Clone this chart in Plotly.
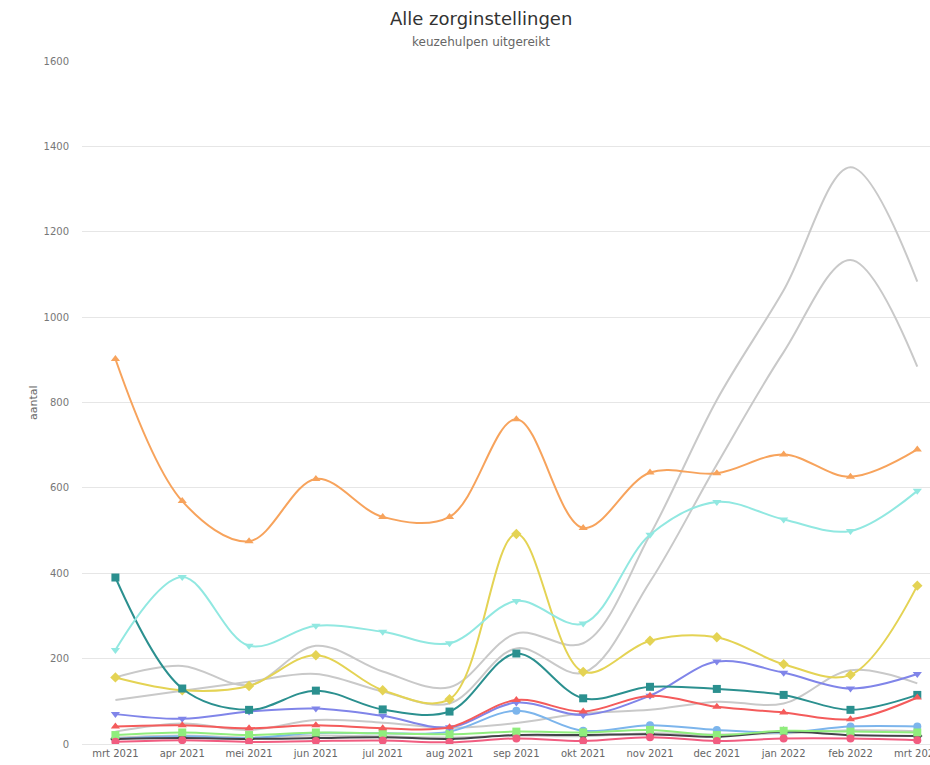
import plotly.graph_objects as go

months = ["mrt 2021", "apr 2021", "mei 2021", "jun 2021", "jul 2021", "aug 2021",
          "sep 2021", "okt 2021", "nov 2021", "dec 2021", "jan 2022", "feb 2022", "mrt 2022"]

# grey series (no markers)
grey_a = [156, 183, 138, 230, 170, 133, 259, 236, 490, 806, 1063, 1351, 1083]
grey_b = [103, 125, 146, 164, 123, 95, 224, 167, 380, 655, 918, 1134, 884]
grey_c = [29, 48, 33, 56, 50, 38, 49, 72, 80, 99, 95, 173, 142]
grey_d = [15, 20, 15, 20, 18, 15, 20, 18, 25, 22, 25, 32, 30]

# coloured series
light_blue = [12, 18, 14, 26, 25, 29, 78, 31, 44, 33, 27, 41, 41]
dark = [12, 14, 12, 14, 16, 12, 21, 21, 23, 17, 29, 21, 19]
green = [21, 27, 21, 27, 25, 23, 29, 27, 33, 21, 31, 29, 27]
orange = [902, 569, 475, 621, 532, 532, 761, 506, 636, 634, 678, 626, 690]
purple = [70, 59, 76, 83, 66, 39, 97, 68, 113, 193, 167, 130, 164]
pink = [5, 9, 5, 7, 8, 4, 13, 7, 16, 7, 13, 13, 9]
yellow = [156, 126, 136, 208, 126, 105, 492, 169, 242, 250, 187, 162, 371]
teal = [390, 130, 80, 125, 81, 76, 212, 107, 134, 129, 115, 80, 115]
red = [41, 44, 37, 44, 37, 39, 103, 76, 113, 87, 74, 58, 109]
turquoise = [220, 391, 230, 277, 263, 236, 335, 282, 490, 567, 526, 499, 593]

x = list(range(len(months)))

fig = go.Figure()

for s in [grey_a, grey_b, grey_c, grey_d]:
    fig.add_trace(go.Scatter(x=x, y=s, mode="lines", line=dict(color="#c9c9c9", width=2,
                             shape="spline", smoothing=1.0), showlegend=False, hoverinfo="skip"))

series = [
    (light_blue, "#7cb5ec", "circle"),
    (dark, "#434348", "diamond"),
    (green, "#90ed7d", "square"),
    (orange, "#f7a35c", "triangle-up"),
    (purple, "#8085e9", "triangle-down"),
    (pink, "#f15c80", "circle"),
    (yellow, "#e4d354", "diamond"),
    (teal, "#2b908f", "square"),
    (red, "#f45b5b", "triangle-up"),
    (turquoise, "#91e8e1", "triangle-down"),
]
for s, c, sym in series:
    fig.add_trace(go.Scatter(x=x, y=s, mode="lines+markers",
                             line=dict(color=c, width=2, shape="spline", smoothing=1.0),
                             marker=dict(color=c, symbol=sym, size=8),
                             showlegend=False))

# pixel -> paper conversion helpers (plot area: x 82..930, y 61..744)
def px(p):
    return (p - 82) / (930 - 82)

def py(p):
    return (744 - p) / (744 - 61)

fig.update_layout(
    width=930, height=765,
    margin=dict(l=82, r=0, t=61, b=21),
    plot_bgcolor="white", paper_bgcolor="white",
    font=dict(family="DejaVu Sans", color="#666666", size=11),
    xaxis=dict(range=[-0.5, 12.19], tickmode="array", tickvals=x, ticktext=months,
               showgrid=False, zeroline=False, showline=True, linecolor="#e6e6e6",
               ticks="", tickfont=dict(size=10, color="#666666"), automargin=False,
               ticklabeloverflow="allow", fixedrange=True),
    yaxis=dict(range=[0, 1600], dtick=200, showgrid=True, gridcolor="#e6e6e6", zeroline=False,
               tickfont=dict(size=10, color="#777777"), ticklabelstandoff=12,
               automargin=False),
    annotations=[
        dict(text="Alle zorginstellingen", x=px(481), y=py(18), xref="paper", yref="paper",
             xanchor="center", yanchor="middle", showarrow=False,
             font=dict(family="DejaVu Sans", size=18, color="#333333")),
        dict(text="keuzehulpen uitgereikt", x=px(481), y=py(42), xref="paper", yref="paper",
             xanchor="center", yanchor="middle", showarrow=False,
             font=dict(family="DejaVu Sans", size=12, color="#666666")),
        dict(text="aantal", x=px(33), y=py(403), xref="paper", yref="paper",
             xanchor="center", yanchor="middle", textangle=-90, showarrow=False,
             font=dict(family="DejaVu Sans", size=11, color="#666666")),
    ],
)

fig.write_html("out.html")
